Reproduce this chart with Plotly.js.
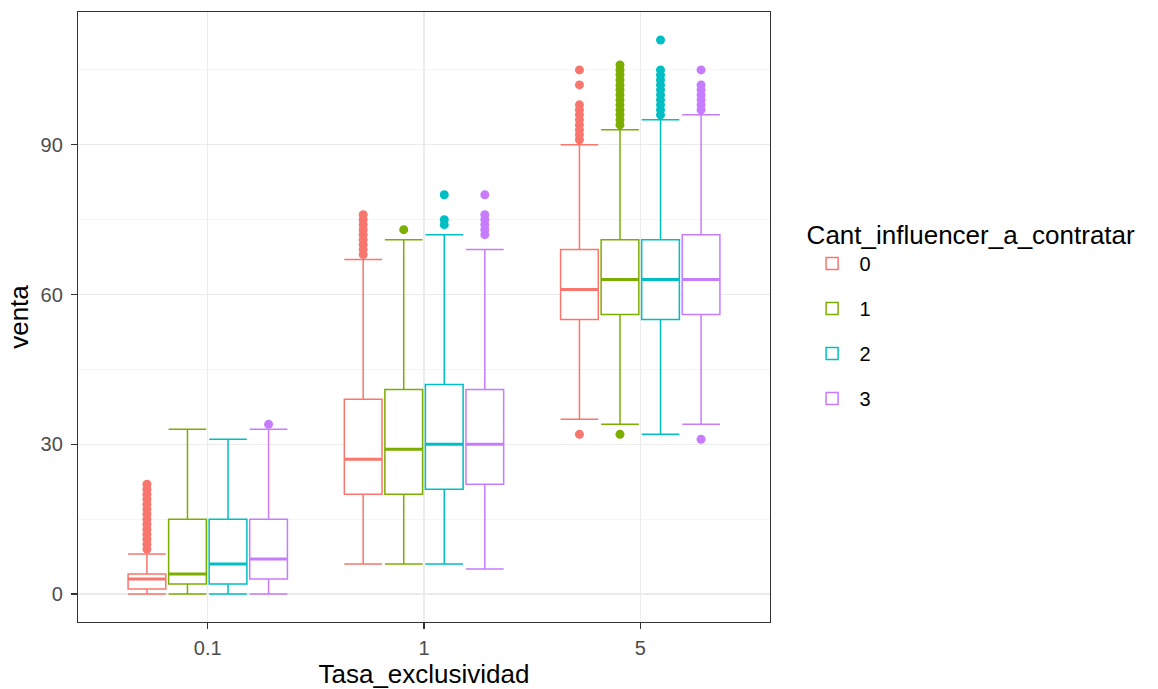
<!DOCTYPE html>
<html>
<head>
<meta charset="utf-8">
<script src="https://cdn.plot.ly/plotly-3.0.1.min.js"></script>
<style>html,body{margin:0;padding:0;background:#fff;}#chart{width:1158px;height:689px;}</style>
</head>
<body>
<div id="chart"></div>
<script>
// ---- data ----
const categories = ['0.1', '1', '5'];
const groups = ['0', '1', '2', '3'];
const colors = ['#F8766D', '#7CAE00', '#00BFC4', '#C77CFF'];

// per group, per category
const q1Values     = [[1, 20, 55], [2, 20, 56], [2, 21, 55], [3, 22, 56]];
const medianValues = [[3, 27, 61], [4, 29, 63], [6, 30, 63], [7, 30, 63]];
const q3Values     = [[4, 39, 69], [15, 41, 71], [15, 42, 71], [15, 41, 72]];
const lowerValues  = [[0, 6, 35], [0, 6, 34], [0, 6, 32], [0, 5, 34]];
const upperValues  = [[8, 67, 90], [33, 71, 93], [31, 72, 95], [33, 69, 96]];

const outliers0 = [
  [9, 10, 11, 12, 13, 14, 15, 16, 17, 18, 19, 20, 21, 22],
  [68, 69, 70, 71, 72, 73, 74, 75, 76],
  [32, 91, 92, 93, 94, 95, 96, 97, 98, 102, 105]
];
const outliers1 = [
  [],
  [73],
  [32, 94, 95, 96, 97, 98, 99, 100, 101, 102, 103, 104, 105, 106]
];
const outliers2 = [
  [],
  [74, 75, 80],
  [96, 97, 98, 99, 100, 101, 102, 103, 104, 105, 111]
];
const outliers3 = [
  [34],
  [72, 73, 74, 75, 76, 80],
  [31, 97, 98, 99, 100, 101, 102, 105]
];
const outlierSets = [outliers0, outliers1, outliers2, outliers3];

// ---- layout helpers ----
const dodgeWidth = 0.75;
const slot = dodgeWidth / groups.length;
function pos(catIdx, g) { return catIdx + (g - (groups.length - 1) / 2) * slot; }

const traces = [];
groups.forEach((gName, g) => {
  const xs = categories.map((c, i) => pos(i, g));
  traces.push({
    type: 'box', name: gName, x: xs,
    q1: q1Values[g], median: medianValues[g], q3: q3Values[g],
    lowerfence: lowerValues[g], upperfence: upperValues[g],
    width: slot * 0.93, whiskerwidth: 1,
    fillcolor: '#FFFFFF', line: {color: colors[g], width: 1.5},
    boxpoints: false, legendgroup: 'g' + g, hoverinfo: 'skip'
  });
  // thicker median line
  traces.push({
    type: 'box', name: gName, x: xs,
    q1: medianValues[g], median: medianValues[g], q3: medianValues[g],
    lowerfence: medianValues[g], upperfence: medianValues[g],
    width: slot * 0.93, whiskerwidth: 0,
    fillcolor: 'rgba(0,0,0,0)', line: {color: colors[g], width: 3},
    boxpoints: false, showlegend: false, legendgroup: 'g' + g, hoverinfo: 'skip'
  });
  const ox = [], oy = [];
  outlierSets[g].forEach((vals, i) => vals.forEach(v => { ox.push(pos(i, g)); oy.push(v); }));
  traces.push({
    type: 'scatter', mode: 'markers', x: ox, y: oy,
    marker: {color: colors[g], size: 9},
    showlegend: false, legendgroup: 'g' + g, hoverinfo: 'skip'
  });
});

const layout = {
  width: 1158, height: 689,
  margin: {l: 78, r: 388, t: 12, b: 67},
  paper_bgcolor: '#FFFFFF', plot_bgcolor: '#FFFFFF',
  font: {family: 'Liberation Sans, Arial, sans-serif', color: '#000000'},
  showlegend: true,
  xaxis: {
    range: [-0.6, 2.6], tickmode: 'array',
    tickvals: categories.map((c, i) => i), ticktext: categories,
    showgrid: true, gridcolor: '#EBEBEB', gridwidth: 1.2, zeroline: false,
    showline: true, mirror: true, linecolor: '#333333', linewidth: 1.2,
    ticks: 'outside', ticklen: 6, tickcolor: '#333333', tickwidth: 1.2,
    ticklabelstandoff: 2,
    tickfont: {size: 20, color: '#4D4D4D'},
    title: {text: 'Tasa_exclusividad', font: {size: 26, color: '#000000'}, standoff: 2}
  },
  yaxis: {
    range: [-5.6, 116.6], tickmode: 'array', tickvals: [0, 30, 60, 90],
    showgrid: true, gridcolor: '#EBEBEB', gridwidth: 1.2, zeroline: false,
    minor: {tickvals: [15, 45, 75, 105], showgrid: true, gridcolor: '#F2F2F2', gridwidth: 0.8, ticks: ''},
    showline: true, mirror: true, linecolor: '#333333', linewidth: 1.2,
    ticks: 'outside', ticklen: 6, tickcolor: '#333333', tickwidth: 1.2,
    ticklabelstandoff: 4,
    tickfont: {size: 20, color: '#4D4D4D'},
    title: {text: 'venta', font: {size: 26, color: '#000000'}, standoff: 4}
  },
  legend: {
    x: 1.05, xanchor: 'left', y: 0.675, yanchor: 'top',
    title: {text: 'Cant_influencer_a_contratar', font: {size: 26, color: '#000000'}},
    font: {size: 20, color: '#000000'},
    itemwidth: 45,
    tracegroupgap: 16, bgcolor: 'rgba(0,0,0,0)'
  }
};

Plotly.newPlot('chart', traces, layout, {displayModeBar: false, staticPlot: true});
</script>
</body>
</html>
